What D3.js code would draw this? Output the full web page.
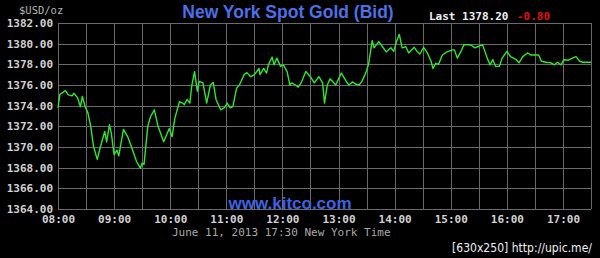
<!DOCTYPE html>
<html>
<head>
<meta charset="utf-8">
<script src="https://cdn.jsdelivr.net/npm/d3@7"></script>
<style>
html,body{margin:0;padding:0;background:#000;}
svg{display:block;}
</style>
</head>
<body>
<svg id="chart" width="600" height="258"></svg>
<script>
// ---- data ----
const times = ["08:00","08:02","08:08","08:11","08:15","08:17","08:21","08:24","08:26","08:29","08:32","08:35","08:38","08:42","08:45","08:50","08:52","08:55","08:57","09:00","09:03","09:05","09:10","09:15","09:19","09:24","09:28","09:30","09:32","09:36","09:39","09:43","09:47","09:53","09:59","10:02","10:05","10:10","10:14","10:15","10:18","10:21","10:23","10:26","10:29","10:31","10:35","10:39","10:43","10:46","10:49","10:54","10:58","11:01","11:04","11:07","11:11","11:14","11:19","11:22","11:26","11:30","11:35","11:36","11:40","11:43","11:45","11:49","11:51","11:54","11:58","12:01","12:05","12:08","12:10","12:14","12:17","12:20","12:25","12:30","12:34","12:39","12:43","12:45","12:48","12:51","12:57","13:03","13:08","13:11","13:15","13:18","13:22","13:25","13:29","13:32","13:36","13:38","13:43","13:47","13:51","13:56","13:59","14:02","14:05","14:08","14:12","14:15","14:21","14:24","14:27","14:31","14:35","14:39","14:41","14:44","14:47","14:51","14:56","15:02","15:04","15:07","15:11","15:14","15:21","15:26","15:30","15:34","15:36","15:39","15:42","15:45","15:48","15:52","15:55","16:00","16:04","16:10","16:13","16:17","16:22","16:26","16:34","16:37","16:42","16:47","16:51","16:54","16:58","17:01","17:06","17:10","17:14","17:18","17:21","17:30"];
const prices = [1373.8,1375.1,1375.45,1375.05,1374.95,1375.2,1374.75,1373.9,1374.9,1373.9,1373.3,1372.0,1370.05,1368.8,1369.9,1371.5,1370.5,1372.15,1371.35,1369.25,1369.7,1369.15,1371.7,1370.9,1369.9,1368.6,1367.95,1368.45,1368.3,1372.0,1372.95,1373.6,1372.0,1370.5,1371.8,1371.0,1372.8,1374.4,1374.2,1374.1,1374.6,1374.25,1375.9,1377.3,1375.4,1376.35,1376.2,1374.25,1376.0,1376.25,1374.6,1373.6,1373.8,1374.25,1373.8,1373.9,1375.7,1376.0,1377.0,1377.2,1376.8,1377.0,1377.6,1377.0,1377.6,1377.15,1377.95,1378.7,1377.95,1378.6,1377.8,1377.95,1377.3,1376.0,1376.2,1376.0,1375.8,1376.2,1377.3,1376.8,1376.2,1376.8,1376.2,1374.25,1376.0,1376.6,1376.0,1377.15,1376.4,1376.0,1376.3,1376.1,1376.0,1376.35,1377.15,1377.95,1380.3,1379.6,1380.2,1379.7,1379.2,1379.6,1379.25,1380.2,1380.9,1379.6,1379.7,1379.1,1379.65,1379.25,1379.0,1379.65,1379.1,1378.3,1377.6,1378.1,1378.0,1378.9,1379.2,1379.4,1379.4,1378.6,1379.25,1379.9,1379.9,1379.6,1379.75,1379.9,1379.4,1378.6,1377.95,1378.45,1377.8,1377.8,1378.6,1379.25,1378.75,1378.45,1378.15,1378.75,1379.1,1378.9,1378.9,1378.3,1378.2,1378.15,1377.95,1378.2,1377.95,1378.45,1378.4,1378.6,1378.75,1378.3,1378.2,1378.2];
const yTicks = [1364,1366,1368,1370,1372,1374,1376,1378,1380,1382];
const xTickLabels = ["08:00","09:00","10:00","11:00","12:00","13:00","14:00","15:00","16:00","17:00"];
const xDomainLabels = ["08:00","17:30"];
const titleText = "New York Spot Gold (Bid)";
const unitText = "$USD/oz";
const lastLabel = "Last 1378.20";
const changeLabel = "-0.80";
const watermark = "www.kitco.com";
const dateLine = "June 11, 2013 17:30 New York Time";
const creditText = "[630x250] http://upic.me/";

// ---- chart ----
(function(){
const parse = d3.timeParse("%Y-%m-%d %H:%M");
const t = s => parse("2013-06-11 " + s);
const data = times.map((s,i)=>({t:t(s), v:prices[i]}));

const svg = d3.select("#chart");
svg.append("rect").attr("width",600).attr("height",258).attr("fill","#000");

const pLeft=58, pRight=591, pTop=23, pBottom=209;
const x = d3.scaleTime().domain(xDomainLabels.map(t)).range([pLeft,pRight]);
const y = d3.scaleLinear().domain([1364,1382]).range([pBottom,pTop]);

const gridColor = "#6a6a6a";
const labelColor = "#d2d2d2";
const mono = "'DejaVu Sans Mono', 'Liberation Mono', monospace";

// vertical grid every 30 min
const halfHours = d3.timeMinute.every(30).range(x.domain()[0], d3.timeMinute.offset(x.domain()[1],1));
svg.append("g").selectAll("line").data(halfHours).join("line")
  .attr("x1",d=>Math.round(x(d))+0.5).attr("x2",d=>Math.round(x(d))+0.5)
  .attr("y1",y(1382)).attr("y2",y(1364))
  .attr("stroke",gridColor).attr("stroke-width",1);

// horizontal grid
svg.append("g").selectAll("line").data(yTicks).join("line")
  .attr("x1",pLeft).attr("x2",pRight)
  .attr("y1",d=>Math.round(y(d))+0.5).attr("y2",d=>Math.round(y(d))+0.5)
  .attr("stroke",gridColor).attr("stroke-width",1);

// y axis labels
const yAxis = d3.axisLeft(y).tickValues(yTicks).tickFormat(d3.format(".2f")).tickSize(0).tickPadding(5);
const gy = svg.append("g").attr("transform",`translate(${pLeft},0)`).call(yAxis);
gy.select(".domain").remove();
gy.selectAll("text").attr("fill",labelColor).style("font-family",mono)
  .style("font-size","11px").style("font-weight","bold");

// x axis labels
const xAxis = d3.axisBottom(x).tickValues(xTickLabels.map(t)).tickFormat(d3.timeFormat("%H:%M")).tickSize(0).tickPadding(6);
const gx = svg.append("g").attr("transform",`translate(0,${pBottom})`).call(xAxis);
gx.select(".domain").remove();
gx.selectAll("text").attr("fill",labelColor).style("font-family",mono)
  .style("font-size","11px").style("font-weight","bold");

// line
const line = d3.line().x(d=>x(d.t)).y(d=>y(d.v));
svg.append("path").datum(data).attr("d",line)
  .attr("fill","none").attr("stroke","#2ee82e").attr("stroke-width",1.4)
  .attr("stroke-linejoin","round");

// texts
svg.append("text").attr("x",19).attr("y",14).text(unitText)
  .attr("fill","#b4b4b4").style("font-family",mono).style("font-size","10.5px");

svg.append("text").attr("x",288).attr("y",18).attr("text-anchor","middle").text(titleText)
  .attr("fill","#4c70e6").style("font-family","'Liberation Sans', Arial, sans-serif")
  .style("font-size","17.5px").style("font-weight","bold");

svg.append("text").attr("x",429).attr("y",19.5).text(lastLabel)
  .attr("fill","#f0f0f0").style("font-family",mono).style("font-size","11px").style("font-weight","bold");
svg.append("text").attr("x",517).attr("y",19.5).text(changeLabel)
  .attr("fill","#e01010").style("font-family",mono).style("font-size","11px").style("font-weight","bold");

svg.append("text").attr("x",290).attr("y",209).attr("text-anchor","middle").text(watermark)
  .attr("fill","#3f62e0").style("font-family","'Liberation Sans', Arial, sans-serif")
  .style("font-size","17px").style("font-weight","bold");

svg.append("text").attr("x",172).attr("y",235.5).text(dateLine)
  .attr("fill","#a8a8a8").style("font-family",mono).style("font-size","11px");

svg.append("text").attr("x",452).attr("y",252).text(creditText)
  .attr("fill","#f2f2f2").attr("textLength",140).attr("lengthAdjust","spacingAndGlyphs")
  .style("font-family","'DejaVu Sans', sans-serif").style("font-size","11.5px");
})();
</script>
</body>
</html>
